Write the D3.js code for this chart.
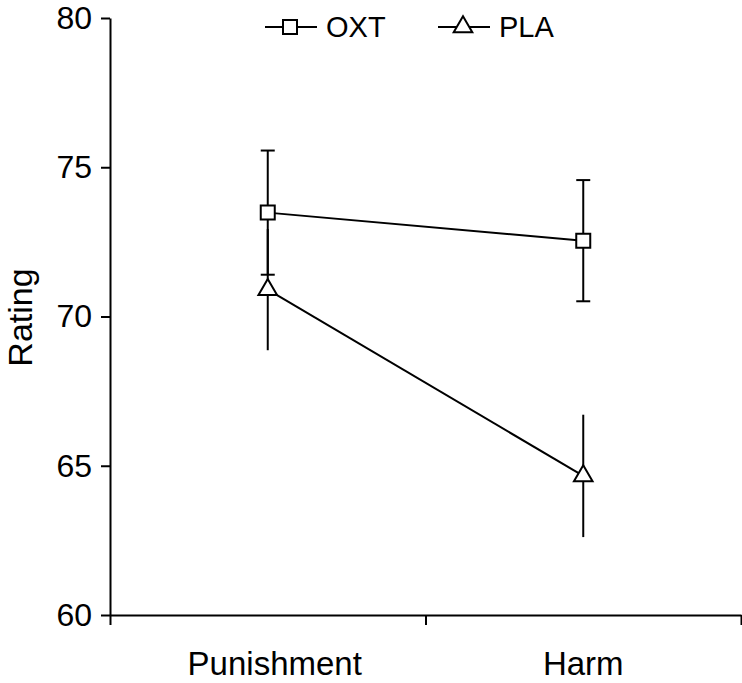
<!DOCTYPE html>
<html>
<head>
<meta charset="utf-8">
<script src="https://cdn.jsdelivr.net/npm/d3@7"></script>
<style>
  body { margin: 0; background: #fff; }
  svg { font-family: "Liberation Sans", Arial, Helvetica, sans-serif; }
</style>
</head>
<body>
<div id="chart"></div>
<script>
// values
const categories = ['Punishment', 'Harm'];
const seriesNames = ['OXT', 'PLA'];
const oxtMean = [73.48, 72.54];
const oxtSE = [2.08, 2.03];
const plaMean = [70.9, 64.66];
const plaSE = [2.03, 2.05];
const yTicks = [60, 65, 70, 75, 80];

const width = 742;
const height = 683;
const margin = { top: 18, right: 1, bottom: 68, left: 110 };

const svg = d3.select('#chart').append('svg')
    .attr('width', width)
    .attr('height', height);

// categories sit halfway between the bottom ticks
const x = d3.scaleLinear().domain([0, categories.length]).range([margin.left, width - margin.right]);
const y = d3.scaleLinear().domain([60, 80]).range([height - margin.bottom, margin.top]);

const xAxis = d3.axisBottom(x).tickValues([0, 1, 2]).tickFormat('').tickSize(10).tickSizeOuter(0);
const yAxis = d3.axisLeft(y).tickValues(yTicks).tickSize(9).tickSizeOuter(0).tickPadding(9);

const xAxisG = svg.append('g').attr('transform', 'translate(0,' + y(60) + ')').call(xAxis);
const yAxisG = svg.append('g').attr('transform', 'translate(' + margin.left + ',0)').call(yAxis);

svg.selectAll('.domain, .tick line').attr('stroke', '#000').attr('stroke-width', 2);
yAxisG.selectAll('.tick text').attr('font-size', 32).attr('fill', '#000').attr('font-family', null);

// category labels
svg.append('g').selectAll('text')
    .data(categories)
    .join('text')
    .attr('x', (d, i) => x(i + 0.5) + (i === 0 ? 7 : 0))
    .attr('y', 675)
    .attr('text-anchor', 'middle')
    .attr('font-size', 33)
    .text(d => d);

svg.append('text')
    .attr('transform', 'translate(32,' + (y(70) + 1) + ') rotate(-90)')
    .attr('text-anchor', 'middle')
    .attr('font-size', 34)
    .text('Rating');

const series = [
    { name: seriesNames[0], mean: oxtMean, se: oxtSE, symbol: 'square', caps: true },
    { name: seriesNames[1], mean: plaMean, se: plaSE, symbol: 'triangle', caps: false }
];

function markerPath(kind) {
    if (kind === 'square') return d3.symbol(d3.symbolSquare, 196)();
    return d3.symbol(d3.symbolTriangle, 150)();
}

const line = d3.line().x((d, i) => x(i + 0.5)).y(d => y(d));

series.forEach(s => {
    svg.append('path')
        .attr('d', line(s.mean))
        .attr('fill', 'none')
        .attr('stroke', '#000')
        .attr('stroke-width', 2);
});

series.forEach(s => {
    const g = svg.append('g');
    s.mean.forEach((m, i) => {
        const cx = x(i + 0.5);
        g.append('line')
            .attr('x1', cx).attr('x2', cx)
            .attr('y1', y(m - s.se[i])).attr('y2', y(m + s.se[i]))
            .attr('stroke', '#000').attr('stroke-width', 2);
        if (s.caps) {
            [m - s.se[i], m + s.se[i]].forEach(v => {
                g.append('line')
                    .attr('x1', cx - 7).attr('x2', cx + 7)
                    .attr('y1', y(v)).attr('y2', y(v))
                    .attr('stroke', '#000').attr('stroke-width', 2);
            });
        }
    });
});

series.forEach(s => {
    svg.append('g').selectAll('path')
        .data(s.mean)
        .join('path')
        .attr('transform', (d, i) => 'translate(' + x(i + 0.5) + ',' + y(d) + ')')
        .attr('d', markerPath(s.symbol))
        .attr('fill', '#fff')
        .attr('stroke', '#000')
        .attr('stroke-width', 2);
});

// legend
const legendX = [265, 438];
const legend = svg.append('g').selectAll('g')
    .data(series)
    .join('g')
    .attr('transform', (d, i) => 'translate(' + legendX[i] + ',27)');

legend.append('line')
    .attr('x1', 0).attr('x2', 52)
    .attr('stroke', '#000').attr('stroke-width', 2);
legend.append('path')
    .attr('transform', 'translate(25,0)')
    .attr('d', d => markerPath(d.symbol))
    .attr('fill', '#fff')
    .attr('stroke', '#000')
    .attr('stroke-width', 2);
legend.append('text')
    .attr('x', 61)
    .attr('y', 10)
    .attr('font-size', 29)
    .text(d => d.name);
</script>
</body>
</html>
